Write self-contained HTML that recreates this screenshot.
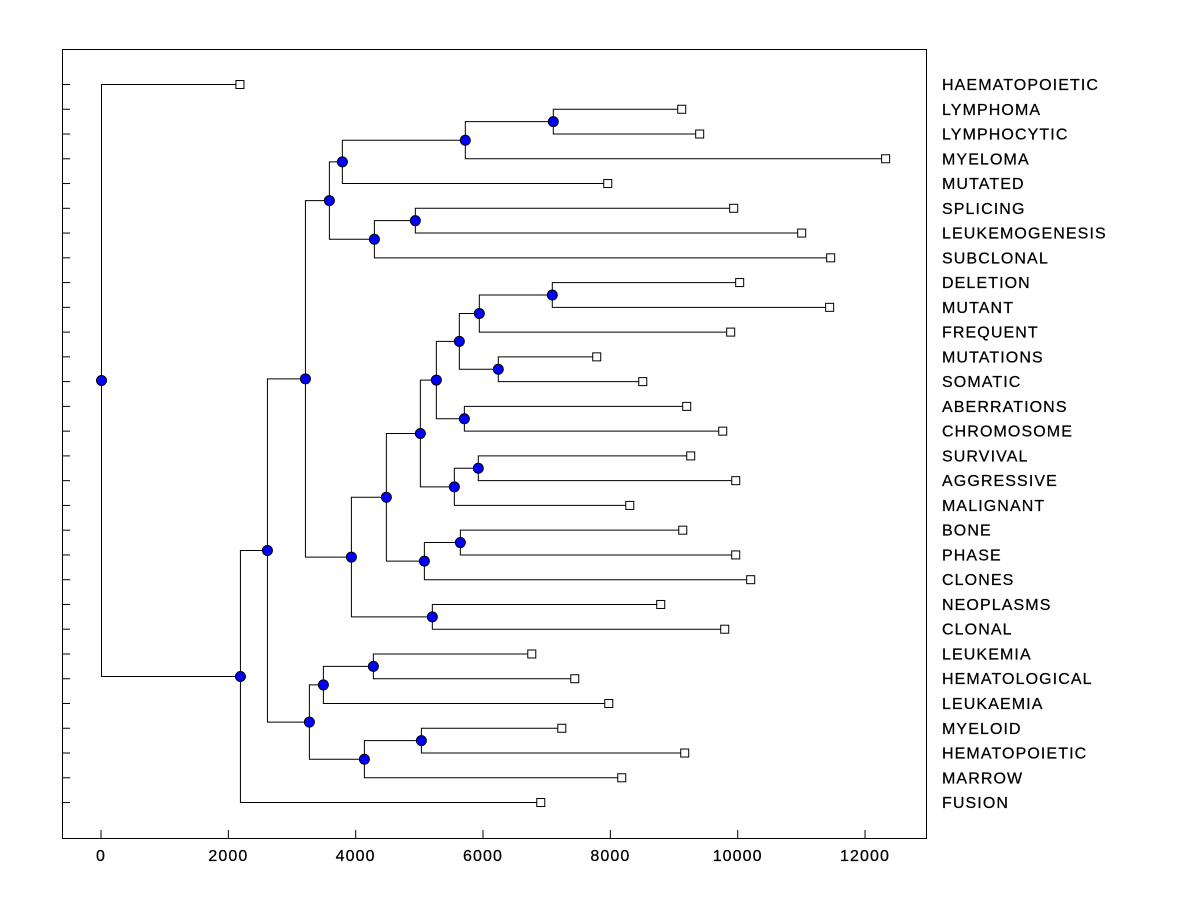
<!DOCTYPE html>
<html><head><meta charset="utf-8"><style>body{margin:0;background:#fff}svg{display:block}text{font-family:"Liberation Sans",sans-serif;font-size:16px;letter-spacing:1.1px;fill:#000;stroke:#000;stroke-width:0.25px}</style></head>
<body>
<svg id="chart" width="1200" height="900"></svg>
<script>
const leafNames=["HAEMATOPOIETIC","LYMPHOMA","LYMPHOCYTIC","MYELOMA","MUTATED","SPLICING","LEUKEMOGENESIS","SUBCLONAL","DELETION","MUTANT","FREQUENT","MUTATIONS","SOMATIC","ABERRATIONS","CHROMOSOME","SURVIVAL","AGGRESSIVE","MALIGNANT","BONE","PHASE","CLONES","NEOPLASMS","CLONAL","LEUKEMIA","HEMATOLOGICAL","LEUKAEMIA","MYELOID","HEMATOPOIETIC","MARROW","FUSION"];
const leafValues=[2182,9121,9403,12323,7959,9937,11005,11460,10031,11444,9890,7786,8509,9199,9765,9262,9969,8305,9137,9969,10204,8791,9796,6766,7441,7975,7237,9168,8179,6907];
// merges: [childA, childB, height]; leaves are "L<i>", nodes "N<i>"
const merges=[
["L1","L2",7096],["N0","L3",5714],["N1","L4",3783],["L5","L6",4929],["N3","L7",4286],["N2","N4",3579],
["L8","L9",7080],["N6","L10",5934],["L11","L12",6232],["N7","N8",5620],["L13","L14",5699],["N9","N10",5259],
["L15","L16",5918],["N12","L17",5542],["N11","N13",5008],["L18","L19",5636],["N15","L20",5071],["N14","N16",4474],
["L21","L22",5196],["N17","N18",3925],["N5","N19",3203],["L23","L24",4270],["N21","L25",3485],["L26","L27",5024],
["N23","L28",4129],["N22","N24",3265],["N20","N25",2606],["N26","L29",2182],["L0","N27",0]];
const xTicks=[0,2000,4000,6000,8000,10000,12000];

const svg=document.getElementById('chart');const NS="http://www.w3.org/2000/svg";
const X=v=>101+v*0.06367, Y=i=>84+i*24.76;
function mk(t,a,name){const e=document.createElementNS(NS,t);for(const k in a)e.setAttribute(k,a[k]);


svg.appendChild(e);return e;}
mk('rect',{x:62.5,y:49.5,width:864,height:789,fill:'none',stroke:'#000'},'plot-frame');
xTicks.forEach(v=>{mk('line',{x1:X(v),x2:X(v),y1:838,y2:830,stroke:'#000'},'x-tick');
const t=mk('text',{x:X(v),y:861,'text-anchor':'middle'},'x-tick-label');t.textContent=v;});
leafNames.forEach((n,i)=>{mk('line',{x1:62,x2:70,y1:Y(i)+.5,y2:Y(i)+.5,stroke:'#000'},'y-tick');
const t=mk('text',{x:942,y:Y(i)+6},'leaf-label');t.textContent=n;});
const pos={};leafNames.forEach((n,i)=>pos['L'+i]={x:X(leafValues[i]),y:Y(i)});
const nodes=[];
merges.forEach((m,k)=>{const a=pos[m[0]],b=pos[m[1]],x=X(m[2]),y=(a.y+b.y)/2;pos['N'+k]={x,y};
mk('path',{d:`M${a.x},${a.y+.5}H${x+.5}V${b.y+.5}H${b.x}`,fill:'none',stroke:'#000'},'branch');nodes.push({x,y});});
leafNames.forEach((n,i)=>{const p=pos['L'+i];mk('rect',{x:p.x-4,y:p.y-3.5,width:8,height:8,fill:'#fff',stroke:'#000'},'leaf-marker');});
nodes.forEach(p=>mk('circle',{cx:p.x+.5,cy:p.y+.5,r:5,fill:'#0000ff',stroke:'#000'},'node-marker'));
</script>
</body></html>
